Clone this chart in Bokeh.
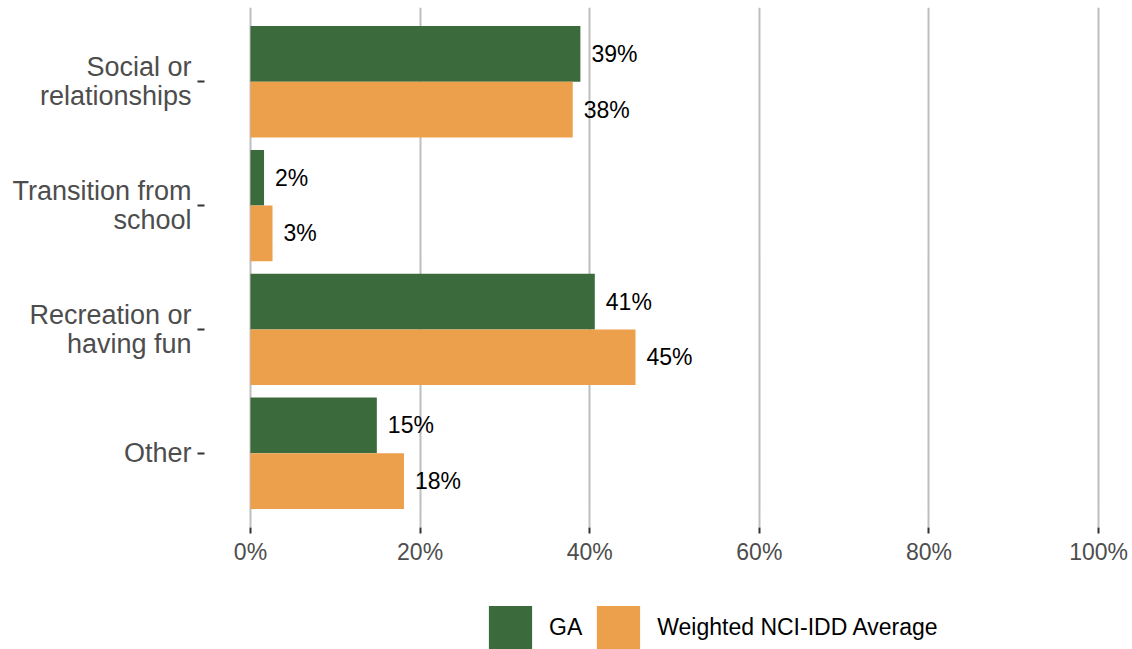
from bokeh.plotting import figure
from bokeh.layouts import column
from bokeh.models import Range1d, FixedTicker, Legend, LegendItem, ColumnDataSource
from bokeh.core.properties import value
from bokeh.embed import file_html
from bokeh.resources import INLINE

# ---- data ----
categories = ["Social or\nrelationships", "Transition from\nschool", "Recreation or\nhaving fun", "Other"]
series_names = ["GA", "Weighted NCI-IDD Average"]
ga_values = [38.9, 1.6, 40.6, 14.9]
nci_values = [38.0, 2.6, 45.4, 18.1]
x_ticks = [0, 20, 40, 60, 80, 100]
x_tick_labels = ["0%", "20%", "40%", "60%", "80%", "100%"]

GREEN = "#3b6b3c"
ORANGE = "#eca04c"
FONT = "Liberation Sans"

n = len(categories)
ypos = [n - 1 - i for i in range(n)]
bar_h = 0.45
off = bar_h / 2

W = 1132
H_MAIN = 595
H_LEG = 54
LEFT = 204

p = figure(width=W, height=H_MAIN, output_backend="svg", toolbar_location=None,
           x_range=Range1d(-5.42, 104.0), y_range=Range1d(-0.6, n - 1 + 0.6),
           min_border_left=LEFT, min_border_right=0, min_border_top=7,
           min_border_bottom=H_MAIN - 527)
p.outline_line_color = None
p.background_fill_color = "white"
p.border_fill_color = "white"

src_ga = ColumnDataSource(dict(y=[v + off for v in ypos], right=ga_values,
                               lab=[f"{round(v)}%" for v in ga_values]))
src_nci = ColumnDataSource(dict(y=[v - off for v in ypos], right=nci_values,
                                lab=[f"{round(v)}%" for v in nci_values]))

p.hbar(y="y", left=0, right="right", height=bar_h, source=src_ga,
       fill_color=GREEN, line_color=None)
p.hbar(y="y", left=0, right="right", height=bar_h, source=src_nci,
       fill_color=ORANGE, line_color=None)

for src in (src_ga, src_nci):
    p.text(x="right", y="y", text="lab", source=src, x_offset=11,
           text_align="left", text_baseline="middle", text_font_size="23px",
           text_font=value(FONT), text_color="black")

# axes
p.xaxis.ticker = FixedTicker(ticks=x_ticks)
p.xaxis.major_label_overrides = {t: l for t, l in zip(x_ticks, x_tick_labels)}
p.yaxis.ticker = FixedTicker(ticks=ypos)
p.yaxis.major_label_overrides = {y: c for y, c in zip(ypos, categories)}

for ax in (p.xaxis[0], p.yaxis[0]):
    ax.axis_line_color = None
    ax.major_tick_line_color = "#333333"
    ax.major_tick_line_width = 2
    ax.major_tick_in = 0
    ax.minor_tick_line_color = None
    ax.major_label_text_font = FONT
    ax.major_label_text_color = "#4d4d4d"

p.xaxis.major_tick_out = 6
p.xaxis.major_label_text_font_size = "23px"
p.xaxis.major_label_standoff = 5
p.yaxis.major_tick_out = 7
p.yaxis.major_label_text_font_size = "27px"
p.yaxis.major_label_text_line_height = 0.97
p.yaxis.major_label_standoff = 6

p.xgrid.grid_line_color = "#bebebe"
p.xgrid.grid_line_width = 2
p.ygrid.grid_line_color = None

# ---- legend strip (separate small figure below the plot) ----
# the same series are drawn there, but outside its visible range, so only the legend shows
lg = figure(width=W, height=H_LEG, output_backend="svg", toolbar_location=None,
            x_range=Range1d(0, 1), y_range=Range1d(1000, 1001),
            x_axis_type=None, y_axis_type=None,
            min_border_left=0, min_border_right=0, min_border_top=0, min_border_bottom=0)
lg.outline_line_color = None
lg.grid.visible = False
lr1 = lg.hbar(y="y", left=0, right="right", height=bar_h, source=src_ga,
              fill_color=GREEN, line_color=None)
lr2 = lg.hbar(y="y", left=0, right="right", height=bar_h, source=src_nci,
              fill_color=ORANGE, line_color=None)

legend = Legend(items=[LegendItem(label=series_names[0], renderers=[lr1]),
                       LegendItem(label=series_names[1], renderers=[lr2])],
                orientation="horizontal", location=(279, -5),
                glyph_width=54, glyph_height=54, label_standoff=12, spacing=9,
                padding=0, margin=0, label_text_font_size="23px",
                label_text_font=FONT, label_text_color="black",
                border_line_color=None, background_fill_alpha=0)
lg.add_layout(legend, "center")

layout = column(p, lg, spacing=0)
open("out.html", "w").write(file_html(layout, INLINE))
